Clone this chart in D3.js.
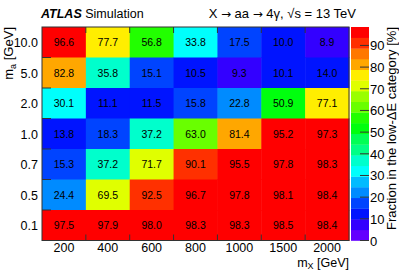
<!DOCTYPE html>
<html>
<head>
<meta charset="utf-8">
<script src="https://cdn.jsdelivr.net/npm/d3@7"></script>
<style>
  body { margin: 0; background: #fff; }
  text { font-family: "Liberation Sans", Arial, sans-serif; }
</style>
</head>
<body>
<svg id="chart" width="399" height="271"></svg>
<script>
// m_X categories (columns) and m_a categories (rows, top to bottom)
var mxLabels = ["200", "400", "600", "800", "1000", "1500", "2000"];
var maLabels = ["10.0", "5.0", "2.0", "1.0", "0.7", "0.5", "0.1"];

// fraction in the low-dE category [%], one array per m_a row
var row10  = [96.6, 77.7, 56.8, 33.8, 17.5, 10.0, 8.9];
var row5   = [82.8, 35.8, 15.1, 10.5, 9.3, 10.1, 14.0];
var row2   = [30.1, 11.1, 11.5, 15.8, 22.8, 50.9, 77.1];
var row1   = [13.8, 18.3, 37.2, 63.0, 81.4, 95.2, 97.3];
var row07  = [15.3, 37.2, 71.7, 90.1, 95.5, 97.8, 98.3];
var row05  = [24.4, 69.5, 92.5, 96.7, 97.8, 98.1, 98.4];
var row01  = [97.5, 97.9, 98.0, 98.3, 98.3, 98.5, 98.4];
var rows = [row10, row5, row2, row1, row07, row05, row01];

var zTicks = [0, 10, 20, 30, 40, 50, 60, 70, 80, 90];
var zMax = 98.5, nLevels = 20;

var svg = d3.select("#chart");
var plotL = 42, plotR = 349, plotT = 27, plotB = 240.5;

var x = d3.scaleBand().domain(mxLabels).range([plotL, plotR]);
var y = d3.scaleBand().domain(maLabels).range([plotT, plotB]);
var z = d3.scaleLinear().domain([0, zMax]).range([plotB, plotT]);

// ROOT-like "pretty" palette, 20 contour bands
function bandColor(k) {
  var idx = Math.floor((k + 0.99) * 50 / nLevels);
  var hue = 280 - (idx + 1) * 5.6;
  return d3.hsl(hue, 1, 0.5).formatHex();
}
function valColor(v) {
  var k = Math.floor(0.01 + v * nLevels / zMax);
  if (k > nLevels - 1) k = nLevels - 1;
  return bandColor(k);
}

var cells = [];
rows.forEach(function(r, i) {
  r.forEach(function(v, j) {
    cells.push({ mx: mxLabels[j], ma: maLabels[i], v: v });
  });
});

var g = svg.append("g");
g.selectAll("rect")
  .data(cells)
  .enter().append("rect")
    .attr("x", function(d) { return x(d.mx); })
    .attr("y", function(d) { return y(d.ma); })
    .attr("width", x.bandwidth() + 0.5)
    .attr("height", y.bandwidth() + 0.5)
    .attr("fill", function(d) { return valColor(d.v); });

g.selectAll("text")
  .data(cells)
  .enter().append("text")
    .attr("x", function(d) { return x(d.mx) + x.bandwidth() / 2; })
    .attr("y", function(d) { return y(d.ma) + y.bandwidth() / 2 + 4; })
    .attr("text-anchor", "middle")
    .style("font-size", "10.5px")
    .attr("fill", "#000")
    .text(function(d) { return d.v.toFixed(1); });

// frame
svg.append("rect")
  .attr("x", plotL).attr("y", plotT)
  .attr("width", plotR - plotL).attr("height", plotB - plotT)
  .attr("fill", "none").attr("stroke", "#333").attr("stroke-width", 1);

// tick marks at category boundaries
var xb = mxLabels.slice(1).map(function(d) { return x(d); });
var yb = maLabels.slice(1).map(function(d) { return y(d); });
xb.forEach(function(px) {
  svg.append("line").attr("x1", px).attr("x2", px).attr("y1", plotB).attr("y2", plotB - 6)
    .attr("stroke", "#333");
  svg.append("line").attr("x1", px).attr("x2", px).attr("y1", plotT).attr("y2", plotT + 6)
    .attr("stroke", "#333");
});
yb.forEach(function(py) {
  svg.append("line").attr("x1", plotL).attr("x2", plotL + 9).attr("y1", py).attr("y2", py)
    .attr("stroke", "#333");
});

// axis labels
svg.selectAll(".xl")
  .data(mxLabels)
  .enter().append("text")
    .attr("class", "xl")
    .attr("x", function(d) { return x(d) + x.bandwidth() / 2; })
    .attr("y", 252)
    .attr("text-anchor", "middle")
    .style("font-size", "12.5px")
    .text(function(d) { return d; });

svg.selectAll(".yl")
  .data(maLabels)
  .enter().append("text")
    .attr("class", "yl")
    .attr("x", 38)
    .attr("y", function(d) { return y(d) + y.bandwidth() / 2 + 5; })
    .attr("text-anchor", "end")
    .style("font-size", "12.5px")
    .text(function(d) { return d; });

var xt = svg.append("text")
  .attr("x", plotR).attr("y", 267)
  .attr("text-anchor", "end")
  .style("font-size", "12.5px");
xt.append("tspan").text("m");
xt.append("tspan").attr("dy", 2).style("font-size", "9px").text("X");
xt.append("tspan").attr("dy", -2).text(" [GeV]");

var yt = svg.append("text")
  .attr("transform", "translate(13," + plotT + ") rotate(-90)")
  .attr("text-anchor", "end")
  .style("font-size", "13px");
yt.append("tspan").text("m");
yt.append("tspan").attr("dy", 3).style("font-size", "9px").text("a");
yt.append("tspan").attr("dy", -3).text(" [GeV]");

// colour bar
var cbL = 351, cbR = 369;
var bands = d3.range(nLevels);
svg.append("g").selectAll("rect")
  .data(bands)
  .enter().append("rect")
    .attr("x", cbL)
    .attr("y", function(k) { return z((k + 1) * zMax / nLevels); })
    .attr("width", cbR - cbL)
    .attr("height", function(k) { return z(k * zMax / nLevels) - z((k + 1) * zMax / nLevels) + 0.3; })
    .attr("fill", function(k) { return bandColor(k); });

zTicks.forEach(function(t) {
  svg.append("line").attr("x1", cbR - 9).attr("x2", cbR).attr("y1", z(t)).attr("y2", z(t))
    .attr("stroke", "#333");
});
svg.selectAll(".zl")
  .data(zTicks)
  .enter().append("text")
    .attr("class", "zl")
    .attr("x", 370)
    .attr("y", function(d) { return z(d) + 5; })
    .style("font-size", "13px")
    .text(function(d) { return d; });

svg.append("text")
  .attr("transform", "translate(396," + plotT + ") rotate(-90)")
  .attr("text-anchor", "end")
  .style("font-size", "13px")
  .text("Fraction in the low-\u0394E category [%]");

// header
var hd = svg.append("text").attr("x", 41).attr("y", 18).style("font-size", "12.5px");
hd.append("tspan").style("font-weight", "bold").style("font-style", "italic").text("ATLAS");
hd.append("tspan").text(" Simulation");

var ttl = svg.append("text")
  .attr("x", 356).attr("y", 18)
  .attr("text-anchor", "end")
  .style("font-size", "13px");
ttl.append("tspan").text("X ");
ttl.append("tspan").style("font-family", "DejaVu Sans").style("font-size", "12px").text("\u2192");
ttl.append("tspan").text(" aa ");
ttl.append("tspan").style("font-family", "DejaVu Sans").style("font-size", "12px").text("\u2192");
ttl.append("tspan").text(" 4\u03b3, \u221as = 13 TeV");
</script>
</body>
</html>
